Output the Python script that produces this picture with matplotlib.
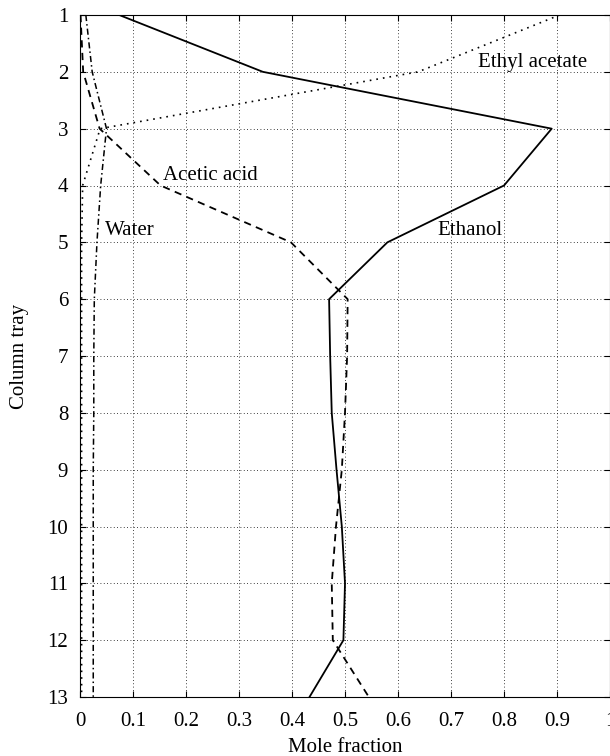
import matplotlib
matplotlib.use("Agg")
import matplotlib.pyplot as plt
import numpy as np

plt.rcParams['font.family'] = ['Liberation Serif', 'DejaVu Serif']

trays = [1, 2, 3, 4, 5, 6, 7, 8, 9, 10, 11, 12, 13]

ethanol = [0.074, 0.345, 0.89, 0.80, 0.58, 0.47, 0.472, 0.475, 0.484, 0.494, 0.50, 0.497, 0.433]
acetic_acid = [0.001, 0.006, 0.037, 0.152, 0.398, 0.505, 0.504, 0.50, 0.494, 0.483, 0.475, 0.477, 0.545]
water = [0.011, 0.023, 0.05, 0.039, 0.032, 0.027, 0.026, 0.026, 0.025, 0.025, 0.025, 0.025, 0.025]
ethyl_acetate = [0.905, 0.638, 0.038, 0.005, 0.003, 0.003, 0.003, 0.003, 0.003, 0.003, 0.003, 0.003, 0.003]

xticks = [0, 0.1, 0.2, 0.3, 0.4, 0.5, 0.6, 0.7, 0.8, 0.9, 1]
xticklabels = ['0', '0.1', '0.2', '0.3', '0.4', '0.5', '0.6', '0.7', '0.8', '0.9', '1']

fig = plt.figure(figsize=(6.1, 7.56), dpi=100)
ax = fig.add_axes([80 / 610, 1 - 697 / 756, 530 / 610, 682 / 756])

ax.plot(ethanol, trays, color='black', lw=1.3, ls='-')
ax.plot(acetic_acid, trays, color='black', lw=1.3, ls=(0, (4, 3)))
ax.plot(water, trays, color='black', lw=1.1, ls=(0, (4, 2, 1, 2)))
ax.plot(ethyl_acetate, trays, color='black', lw=1.2, ls=(0, (1, 3)))

# curve labels
ax.text(0.75, 1.91, 'Ethyl acetate', fontsize=15, va='baseline')
ax.text(0.157, 3.905, 'Acetic acid', fontsize=15, va='baseline')
ax.text(0.047, 4.873, 'Water', fontsize=15, va='baseline')
ax.text(0.675, 4.873, 'Ethanol', fontsize=15, va='baseline')

ax.set_xlim(0, 1)
ax.set_ylim(13, 1)
ax.set_xticks(xticks)
ax.set_xticklabels(xticklabels)
ax.set_yticks(trays)
ax.tick_params(direction='in', length=4, labelsize=15, top=True, right=True)
ax.tick_params(axis='x', pad=10.5)
ax.tick_params(axis='y', pad=8.5)
ax.grid(True, color='black', ls=(0, (1, 3)), lw=0.6)

ax.set_xlabel('Mole fraction', fontsize=15, labelpad=5)
ax.set_ylabel('Column tray', fontsize=15, labelpad=13)

fig.savefig('out.png', dpi=100)
